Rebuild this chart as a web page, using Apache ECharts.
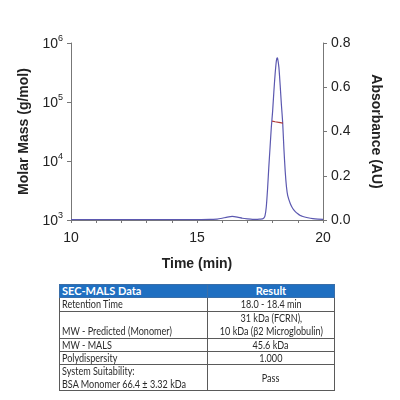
<!DOCTYPE html>
<html><head><meta charset="utf-8">
<script src="https://cdn.jsdelivr.net/npm/echarts@6/dist/echarts.min.js"></script>
<style>
html,body{margin:0;padding:0;background:#fff;}
#chart{position:absolute;left:0;top:0;width:400px;height:400px;}
#tbl{position:absolute;left:59px;top:284px;width:275px;border-collapse:collapse;font-family:Lato,"Liberation Sans",sans-serif;font-size:10.8px;color:#2a2a2a;table-layout:fixed;}
#tbl td{border:1px solid #5a5a5a;padding:0 2px;line-height:12.4px;overflow:visible;white-space:nowrap;}
#tbl td.r{text-align:center;}
#tbl tr.h td{background:#1f6fc1;color:#fff;font-weight:bold;border-color:#3a6ea8;font-size:11px;}
#tbl span.s{display:inline-block;transform:scaleX(0.84);transform-origin:left center;}
#tbl td.r span.s{transform-origin:center center;}
</style></head>
<body>
<div id="chart"></div>
<table id="tbl"></table>
<script>
// Absorbance trace (UV)
var absTime  = [10, 11, 12, 13, 14, 15, 15.5, 15.8, 16.0, 16.2, 16.4, 16.6, 16.8, 17.0, 17.2, 17.4, 17.5, 17.6, 17.65, 17.7, 17.75, 17.8, 17.85, 17.9, 17.95, 18.0, 18.05, 18.1, 18.15, 18.18, 18.2, 18.25, 18.3, 18.35, 18.4, 18.45, 18.5, 18.55, 18.6, 18.7, 18.8, 18.9, 19.0, 19.1, 19.2, 19.4, 19.6, 19.8, 20.0];
var absValue = [0.002, 0.002, 0.002, 0.002, 0.002, 0.002, 0.003, 0.004, 0.008, 0.013, 0.016, 0.013, 0.008, 0.005, 0.003, 0.003, 0.004, 0.005, 0.008, 0.02, 0.06, 0.14, 0.24, 0.33, 0.42, 0.49, 0.58, 0.66, 0.72, 0.733, 0.73, 0.69, 0.61, 0.52, 0.44, 0.32, 0.22, 0.15, 0.11, 0.075, 0.052, 0.038, 0.028, 0.02, 0.016, 0.01, 0.006, 0.004, 0.003];
// Molar mass (MALS)
var massTime  = [17.98, 18.1, 18.2, 18.3, 18.41];
var massValue = [47500, 46300, 45500, 44800, 44000];
// Axis ticks
var xLabels = [10, 15, 20];
// Table
var tableHeader = ["SEC-MALS Data", "Result"];
var tableLeft  = ["Retention Time", "<br>MW - Predicted (Monomer)", "MW - MALS", "Polydispersity", "System Suitability:<br>BSA Monomer 66.4 \u00b1 3.32 kDa"];
var tableRight = ["18.0 - 18.4 min", "31 kDa (FCRN),<br>10 kDa (\u03b22 Microglobulin)", "45.6 kDa", "1.000", "Pass"];

var absData = absTime.map(function(t, i){ return [t, absValue[i]]; });
var massData = massTime.map(function(t, i){ return [t, massValue[i]]; });

var chart = echarts.init(document.getElementById('chart'));
var axisFont = {fontFamily: 'Liberation Sans, Arial, sans-serif', fontSize: 14, color: '#222'};
var nameFont = {fontFamily: 'Liberation Sans, Arial, sans-serif', fontSize: 14, fontWeight: 'bold', color: '#222'};
chart.setOption({
  animation: false,
  grid: {left: 71, right: 77, top: 43, bottom: 180},
  xAxis: {
    type: 'value', min: 10, max: 20, interval: 1,
    name: 'Time (min)', nameLocation: 'middle', nameGap: 37,
    nameTextStyle: nameFont,
    axisLine: {lineStyle: {color: '#777', width: 1}},
    axisTick: {show: true, length: 3, lineStyle: {color: '#777'}},
    splitLine: {show: false},
    axisLabel: Object.assign({margin: 11, formatter: function(v){ return xLabels.indexOf(v) >= 0 ? String(v) : ''; }}, axisFont)
  },
  yAxis: [{
    type: 'log', min: 1000, max: 1000000, logBase: 10, position: 'left',
    name: 'Molar Mass (g/mol)', nameLocation: 'middle', nameGap: 38, nameRotate: 90,
    nameTextStyle: nameFont,
    axisLine: {show: true, lineStyle: {color: '#777'}},
    axisTick: {show: true, length: 4, lineStyle: {color: '#777'}},
    splitLine: {show: false},
    axisLabel: {
      margin: 8,
      formatter: function(v){ var e = Math.round(Math.log10(v)); return '{b|10}{s|' + e + '}'; },
      rich: {
        b: {fontFamily: 'Liberation Sans, Arial, sans-serif', fontSize: 14, color: '#222', verticalAlign: 'bottom'},
        s: {fontFamily: 'Liberation Sans, Arial, sans-serif', fontSize: 9, color: '#222', verticalAlign: 'top', padding: [0,0,8,0]}
      }
    }
  }, {
    type: 'value', min: 0, max: 0.8, interval: 0.2, position: 'right',
    name: 'Absorbance (AU)', nameLocation: 'middle', nameGap: 46, nameRotate: -90,
    nameTextStyle: nameFont,
    axisLine: {show: true, lineStyle: {color: '#777'}},
    axisTick: {show: true, length: 4, lineStyle: {color: '#777'}},
    splitLine: {show: false},
    axisLabel: Object.assign({margin: 8, formatter: function(v){ return v.toFixed(1); }}, axisFont)
  }],
  series: [{
    type: 'line', yAxisIndex: 1, data: absData, showSymbol: false, smooth: 0.2,
    lineStyle: {color: '#5b58b0', width: 1.2}
  }, {
    type: 'line', yAxisIndex: 0, data: massData, showSymbol: false,
    lineStyle: {color: '#b03a3a', width: 1.2}
  }]
});

// Build table
var tbl = document.getElementById('tbl');
var html = '<colgroup><col style="width:148px"><col style="width:127px"></colgroup>';
html += '<tr class="h" style="height:13px"><td>' + tableHeader[0] + '</td><td class="r">' + tableHeader[1] + '</td></tr>';
var rowH = [13.3, 26.7, 12.7, 12.7, 25.7];
for (var i = 0; i < tableLeft.length; i++) {
  html += '<tr style="height:' + rowH[i] + 'px"><td style="vertical-align:bottom"><span class="s">' + tableLeft[i] + '</span></td><td class="r"><span class="s">' + tableRight[i] + '</span></td></tr>';
}
tbl.innerHTML = html;
</script>
</body></html>
